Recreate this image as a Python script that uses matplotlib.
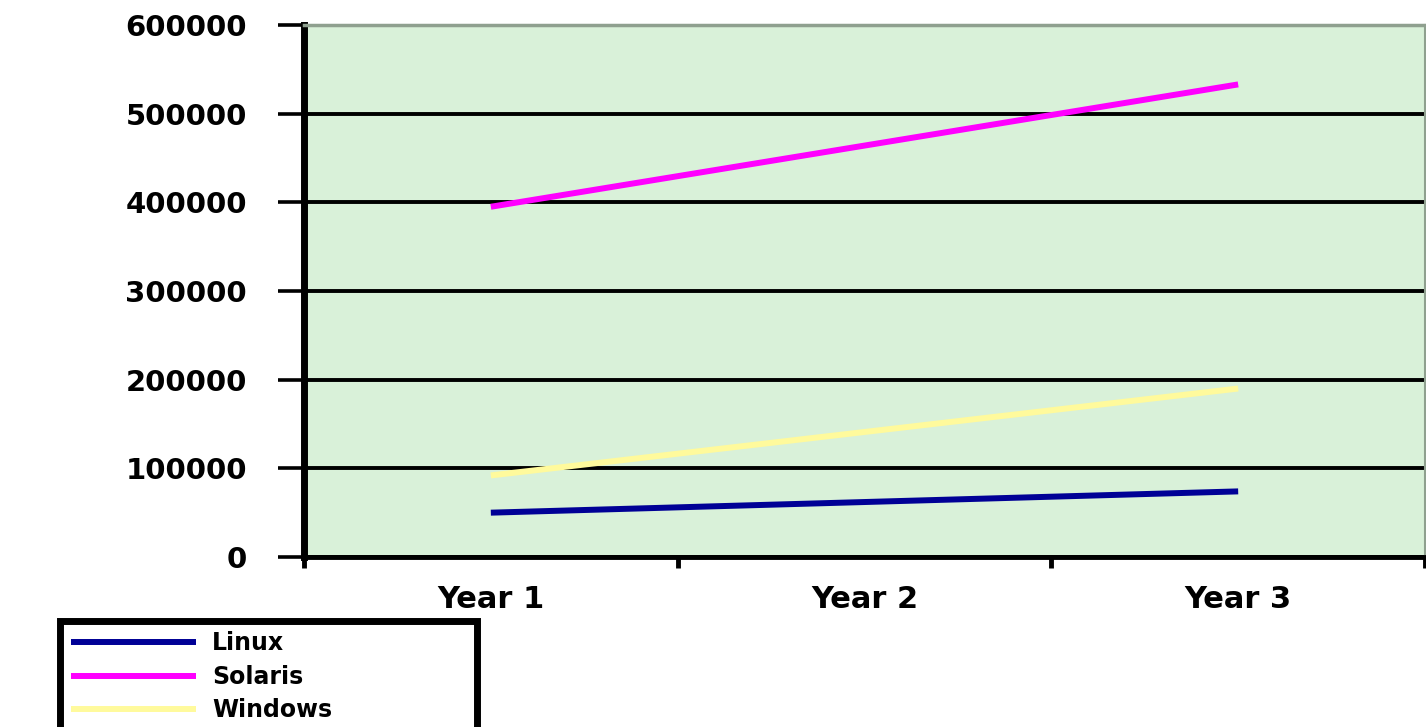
import matplotlib
matplotlib.use("Agg")
import matplotlib.pyplot as plt
from matplotlib.ticker import FixedLocator, FuncFormatter

# categories and series
years = ["Year 1", "Year 2", "Year 3"]
linux = [50000, 62000, 74000]
solaris = [395000, 464000, 533000]
windows = [92000, 141000, 190000]
y_ticks = [0, 100000, 200000, 300000, 400000, 500000, 600000]

plt.rcParams['font.family'] = ['DejaVu Sans']

W, H = 1426, 727
fig = plt.figure(figsize=(W / 100, H / 100), dpi=100)
ax = fig.add_axes([304 / W, 1 - 557 / H, 1121 / W, 532 / H])
ax.set_facecolor('#d9f1d9')

x = [i + 0.5 for i in range(len(years))]
ax.plot(x, linux, color='#000096', lw=4.3, label='Linux', solid_capstyle='butt', zorder=3)
ax.plot(x, solaris, color='#ff00ff', lw=4.3, label='Solaris', solid_capstyle='butt', zorder=3)
ax.plot(x, windows, color='#fffa9c', lw=4.3, label='Windows', solid_capstyle='butt', zorder=3)

ax.set_xlim(0, 3)
ax.set_ylim(0, 600000)

# y axis
ax.yaxis.set_major_locator(FixedLocator(y_ticks))
ax.yaxis.set_major_formatter(FuncFormatter(lambda v, p: f"{int(v)}"))
ax.tick_params(axis='y', length=19, width=2.6, pad=22, labelsize=21, color='black')
for lab in ax.get_yticklabels():
    lab.set_fontweight('bold')
ax.grid(axis='y', color='black', lw=2.8, zorder=1)

# x axis: ticks at boundaries, labels at centres
ax.xaxis.set_major_locator(FixedLocator([0, 1, 2, 3]))
ax.xaxis.set_major_formatter(FuncFormatter(lambda v, p: ""))
ax.xaxis.set_minor_locator(FixedLocator(x))
ax.set_xticklabels(years, minor=True)
ax.tick_params(axis='x', which='major', length=8, width=3.5, direction='out')
ax.tick_params(axis='x', which='minor', length=0, pad=20, labelsize=22)
for lab in ax.get_xticklabels(minor=True):
    lab.set_fontweight('bold')

ax.spines['left'].set_linewidth(5)
ax.spines['bottom'].set_linewidth(3.5)
ax.spines['top'].set_color('#8fa08f')
ax.spines['top'].set_linewidth(2.5)
ax.spines['right'].set_color('#8fa08f')
ax.spines['right'].set_linewidth(1.5)

leg = fig.legend(loc='upper left', bbox_to_anchor=(60 / W, 1 - 628 / H, 417 / W, 0.01),
                 mode='expand', fancybox=False, framealpha=1, edgecolor='black',
                 prop={'size': 17, 'weight': 'bold'}, handlelength=5.3,
                 handletextpad=0.7, labelspacing=0.4, borderpad=0.45, borderaxespad=0)
leg.get_frame().set_linewidth(5)

fig.savefig('out.png', dpi=100)
